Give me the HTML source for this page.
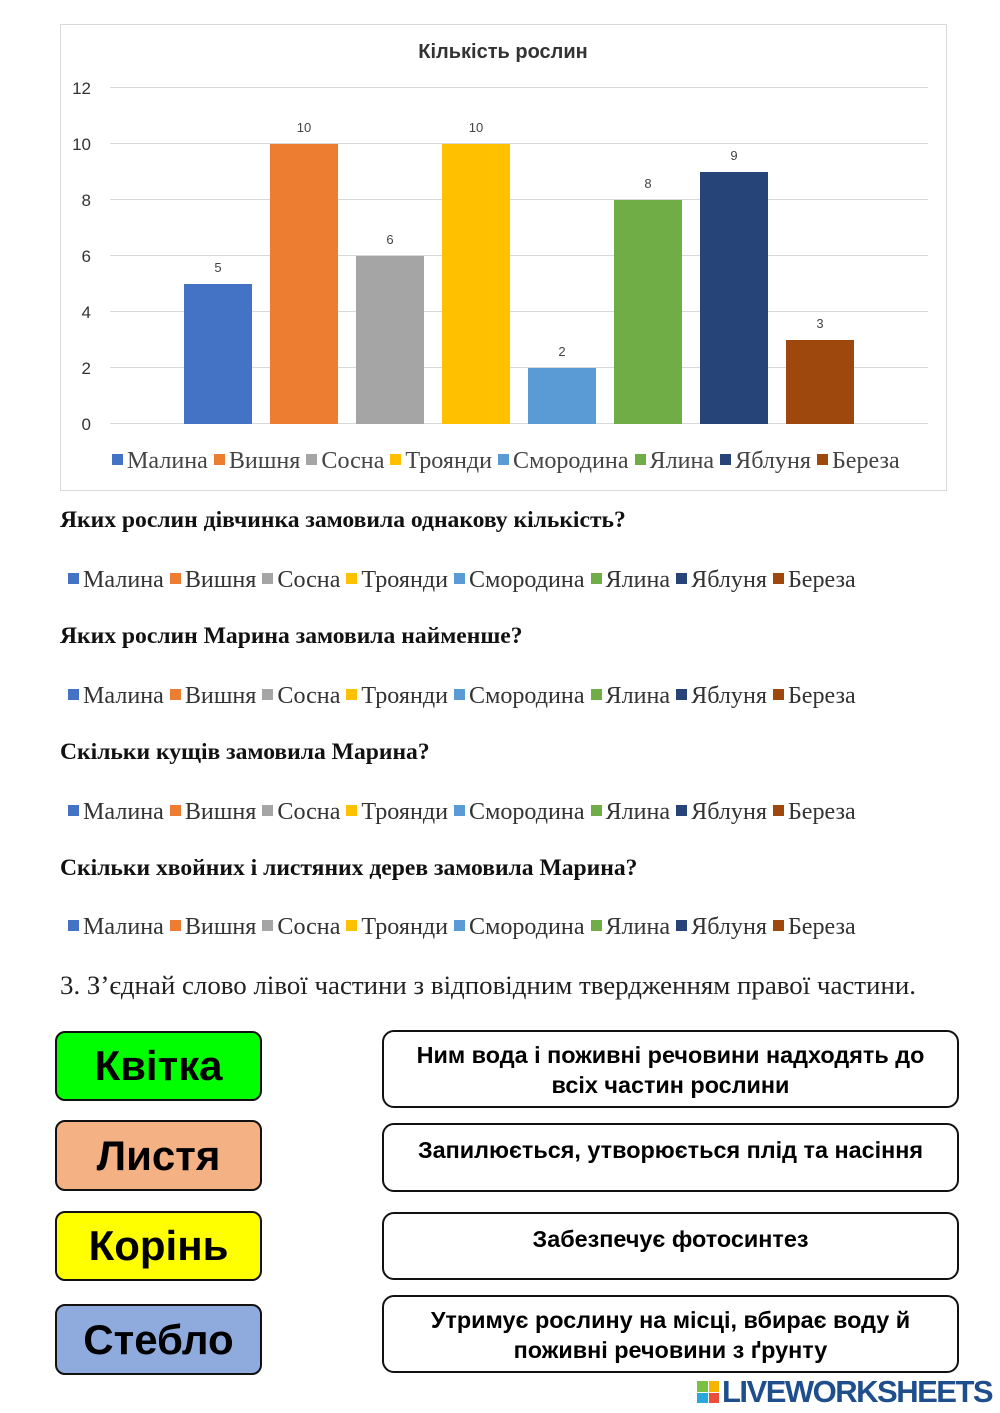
<!DOCTYPE html>
<html><head><meta charset="utf-8"><style>
body{margin:0;width:1000px;height:1413px;background:#fff;position:relative;overflow:hidden;font-family:"Liberation Serif",serif}
.a{position:absolute}
.q{position:absolute;left:60px;font-weight:bold;font-size:23.6px;color:#111;white-space:nowrap}
.lg{position:absolute;left:68px;font-size:24.1px;color:#333;white-space:nowrap}
.lg span{display:inline-block;width:11px;height:11px;margin:0 4px 0 0;vertical-align:3px}
.lb{position:absolute;left:55px;width:203px;border:2px solid #111;border-radius:10px;font:bold 42px "Liberation Sans",sans-serif;text-align:center;display:flex;align-items:center;justify-content:center}
.rb{position:absolute;left:382px;width:577px;border:2px solid #111;border-radius:12px;font:bold 23.4px "Liberation Sans",sans-serif;text-align:center;line-height:30px;box-sizing:border-box;padding-top:8px;white-space:nowrap}
</style></head><body>
<svg class="a" style="left:0;top:0" width="1000" height="500">
<rect x="60.5" y="24.5" width="886" height="466" fill="#fff" stroke="#d9d9d9"/>
<text x="503" y="58" text-anchor="middle" font-family="Liberation Sans" font-weight="bold" font-size="20" fill="#333">Кількість рослин</text>
<g stroke="#d9d9d9">
<line x1="110" x2="928" y1="87.5" y2="87.5"/><line x1="110" x2="928" y1="143.5" y2="143.5"/><line x1="110" x2="928" y1="199.5" y2="199.5"/><line x1="110" x2="928" y1="255.5" y2="255.5"/><line x1="110" x2="928" y1="311.5" y2="311.5"/><line x1="110" x2="928" y1="367.5" y2="367.5"/><line x1="110" x2="928" y1="423.5" y2="423.5"/></g>
<g font-family="Liberation Sans" font-size="17" fill="#333" text-anchor="end">
<text x="91" y="94">12</text><text x="91" y="150">10</text><text x="91" y="206">8</text><text x="91" y="262">6</text><text x="91" y="318">4</text><text x="91" y="374">2</text><text x="91" y="430">0</text></g>
<rect x="184" y="284" width="68" height="140" fill="#4472C4"/>
<rect x="270" y="144" width="68" height="280" fill="#ED7D31"/>
<rect x="356" y="256" width="68" height="168" fill="#A5A5A5"/>
<rect x="442" y="144" width="68" height="280" fill="#FFC000"/>
<rect x="528" y="368" width="68" height="56" fill="#5B9BD5"/>
<rect x="614" y="200" width="68" height="224" fill="#70AD47"/>
<rect x="700" y="172" width="68" height="252" fill="#264478"/>
<rect x="786" y="340" width="68" height="84" fill="#9E480E"/>
<g font-family="Liberation Sans" font-size="13" fill="#444" text-anchor="middle">
<text x="218" y="272">5</text><text x="304" y="132">10</text><text x="390" y="244">6</text><text x="476" y="132">10</text><text x="562" y="356">2</text><text x="648" y="188">8</text><text x="734" y="160">9</text><text x="820" y="328">3</text></g>
</svg>
<div class="lg" style="left:112px;top:448px;color:#444"><span style="background:#4472C4"></span>Малина <span style="background:#ED7D31"></span>Вишня <span style="background:#A5A5A5"></span>Сосна <span style="background:#FFC000"></span>Троянди <span style="background:#5B9BD5"></span>Смородина <span style="background:#70AD47"></span>Ялина <span style="background:#264478"></span>Яблуня <span style="background:#9E480E"></span>Береза</div>

<div class="q" style="top:507px">Яких рослин дівчинка замовила однакову кількість?</div>
<div class="lg" style="top:567px"><span style="background:#4472C4"></span>Малина <span style="background:#ED7D31"></span>Вишня <span style="background:#A5A5A5"></span>Сосна <span style="background:#FFC000"></span>Троянди <span style="background:#5B9BD5"></span>Смородина <span style="background:#70AD47"></span>Ялина <span style="background:#264478"></span>Яблуня <span style="background:#9E480E"></span>Береза</div>
<div class="q" style="top:623px">Яких рослин Марина замовила найменше?</div>
<div class="lg" style="top:683px"><span style="background:#4472C4"></span>Малина <span style="background:#ED7D31"></span>Вишня <span style="background:#A5A5A5"></span>Сосна <span style="background:#FFC000"></span>Троянди <span style="background:#5B9BD5"></span>Смородина <span style="background:#70AD47"></span>Ялина <span style="background:#264478"></span>Яблуня <span style="background:#9E480E"></span>Береза</div>
<div class="q" style="top:739px">Скільки кущів замовила Марина?</div>
<div class="lg" style="top:799px"><span style="background:#4472C4"></span>Малина <span style="background:#ED7D31"></span>Вишня <span style="background:#A5A5A5"></span>Сосна <span style="background:#FFC000"></span>Троянди <span style="background:#5B9BD5"></span>Смородина <span style="background:#70AD47"></span>Ялина <span style="background:#264478"></span>Яблуня <span style="background:#9E480E"></span>Береза</div>
<div class="q" style="top:855px">Скільки хвойних і листяних дерев замовила Марина?</div>
<div class="lg" style="top:914px"><span style="background:#4472C4"></span>Малина <span style="background:#ED7D31"></span>Вишня <span style="background:#A5A5A5"></span>Сосна <span style="background:#FFC000"></span>Троянди <span style="background:#5B9BD5"></span>Смородина <span style="background:#70AD47"></span>Ялина <span style="background:#264478"></span>Яблуня <span style="background:#9E480E"></span>Береза</div>

<div class="a" style="left:60px;top:970px;font-size:26.9px;color:#222;white-space:nowrap">3. З’єднай слово лівої частини з відповідним твердженням правої частини.</div>

<div class="lb" style="top:1031px;height:66px;background:#00FF00">Квітка</div>
<div class="lb" style="top:1120px;height:67px;background:#F4B183">Листя</div>
<div class="lb" style="top:1211px;height:66px;background:#FFFF00">Корінь</div>
<div class="lb" style="top:1304px;height:67px;background:#8FAADC">Стебло</div>

<div class="rb" style="top:1030px;height:78px">Ним вода і поживні речовини надходять до<br>всіх частин рослини</div>
<div class="rb" style="top:1123px;height:69px;padding-top:10px">Запилюється, утворюється плід та насіння</div>
<div class="rb" style="top:1212px;height:68px;padding-top:10px">Забезпечує фотосинтез</div>
<div class="rb" style="top:1295px;height:78px">Утримує рослину на місці, вбирає воду й<br>поживні речовини з ґрунту</div>

<div class="a" style="left:697px;top:1381px;width:22px;height:22px;display:grid;grid-template-columns:1fr 1fr;gap:1px">
<div style="background:#7ac143"></div><div style="background:#f7b500"></div><div style="background:#29a8e0"></div><div style="background:#e94e3c"></div></div>
<div class="a" style="left:722px;top:1374px;font:bold 31px 'Liberation Sans',sans-serif;color:#1f4e8c;letter-spacing:-1.5px">LIVEWORKSHEETS</div>
</body></html>
